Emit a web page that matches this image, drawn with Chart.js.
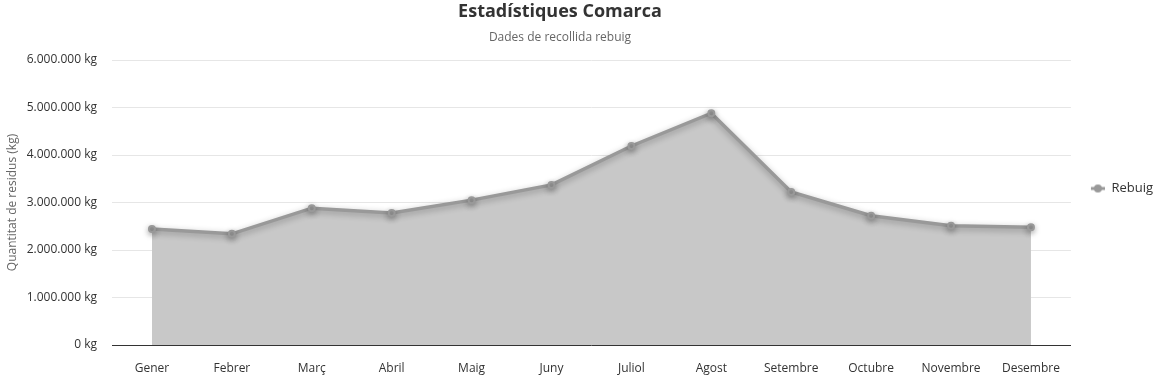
<!DOCTYPE html>
<html lang="ca">
<head>
  <meta charset="UTF-8" />
  <title>Estadístiques Comarca</title>
  <script src="https://cdn.jsdelivr.net/npm/chart.js"></script>
  <style>
    html, body { margin: 0; padding: 0; background: #fff; overflow: hidden; }
    #chart { display: block; }
  </style>
</head>
<body>
  <canvas id="chart" width="1157" height="377"></canvas>
  <script>
    const mesos = ['Gener', 'Febrer', 'Març', 'Abril', 'Maig', 'Juny', 'Juliol', 'Agost', 'Setembre', 'Octubre', 'Novembre', 'Desembre'];
    const rebuig = [2440000, 2340000, 2880000, 2780000, 3050000, 3370000, 4190000, 4880000, 3220000, 2720000, 2510000, 2480000];
    const yTicks = [0, 1000000, 2000000, 3000000, 4000000, 5000000, 6000000];

    const fmt = v => v.toLocaleString('de-DE') + ' kg';
    const FONT = '"Open Sans", "Noto Sans", sans-serif';

    // legend icon: line with a dot, blank space on the left
    const icon = document.createElement('canvas');
    icon.width = 28; icon.height = 10;
    const ic = icon.getContext('2d');
    ic.strokeStyle = '#999'; ic.lineWidth = 3;
    ic.beginPath(); ic.moveTo(14, 5); ic.lineTo(28, 5); ic.stroke();
    ic.fillStyle = '#999';
    ic.beginPath(); ic.arc(21, 5, 4, 0, Math.PI * 2); ic.fill();

    const shadow = {
      id: 'shadow',
      beforeDatasetDraw(chart) {
        const ctx = chart.ctx;
        ctx.save();
        ctx.shadowColor = 'rgba(0,0,0,0.3)';
        ctx.shadowBlur = 6;
        ctx.shadowOffsetY = 2;
      },
      afterDatasetDraw(chart) { chart.ctx.restore(); }
    };

    // title + subtitle centred a bit left of the middle, like the original
    const centrar = {
      id: 'centrar',
      afterLayout(chart) {
        chart.boxes.forEach(b => {
          if (b.position === 'top') { b.left = 0; b.right = 1120; b.width = 1120; }
        });
      }
    };

    function dibuixa() {
      Chart.defaults.font.family = FONT;
      Chart.defaults.color = '#333';

      new Chart(document.getElementById('chart'), {
        type: 'line',
        data: {
          labels: mesos,
          datasets: [{
            label: 'Rebuig',
            data: rebuig,
            borderColor: '#999999',
            backgroundColor: '#c8c8c8',
            pointBackgroundColor: '#999999',
            pointBorderColor: '#999999',
            pointRadius: 3,
            pointBorderWidth: 2,
            borderWidth: 3.5,
            fill: 'origin',
            tension: 0
          }]
        },
        options: {
          responsive: false,
          animation: false,
          layout: { padding: { left: 5, right: -6, top: 0, bottom: 0 } },
          plugins: {
            title: {
              display: true,
              fullSize: false,
              text: 'Estadístiques Comarca',
              font: { size: 18, weight: 'bold' },
              color: '#333',
              padding: { top: 1, bottom: 4 }
            },
            subtitle: {
              display: true,
              fullSize: false,
              text: 'Dades de recollida rebuig',
              font: { size: 12 },
              color: '#666',
              padding: { top: 4, bottom: 15 }
            },
            legend: {
              position: 'right',
              labels: {
                usePointStyle: true,
                pointStyle: icon,
                pointStyleWidth: 28,
                font: { size: 13 },
                color: '#333',
                padding: 6
              }
            }
          },
          scales: {
            x: {
              offset: true,
              grid: { display: false, drawTicks: false },
              border: { color: '#333', width: 1 },
              ticks: { font: { size: 12 }, color: '#333', padding: 16, maxRotation: 0 },
              afterFit: s => { s.height = 32; }
            },
            y: {
              min: 0,
              max: 6000000,
              afterBuildTicks: s => { s.ticks = yTicks.map(v => ({ value: v })); },
              grid: { color: '#e6e6e6', drawTicks: false },
              border: { display: false },
              ticks: { callback: v => fmt(v), font: { size: 12 }, color: '#333', padding: 15 },
              title: { display: true, text: 'Quantitat de residus (kg)', color: '#666', font: { size: 12 }, padding: 0 },
              afterFit: s => { s.width = 107; }
            }
          }
        },
        plugins: [shadow, centrar]
      });
    }

    Promise.all([
      document.fonts.load('12px "Open Sans"'),
      document.fonts.load('bold 18px "Open Sans"')
    ]).then(dibuixa, dibuixa);
  </script>
</body>
</html>
